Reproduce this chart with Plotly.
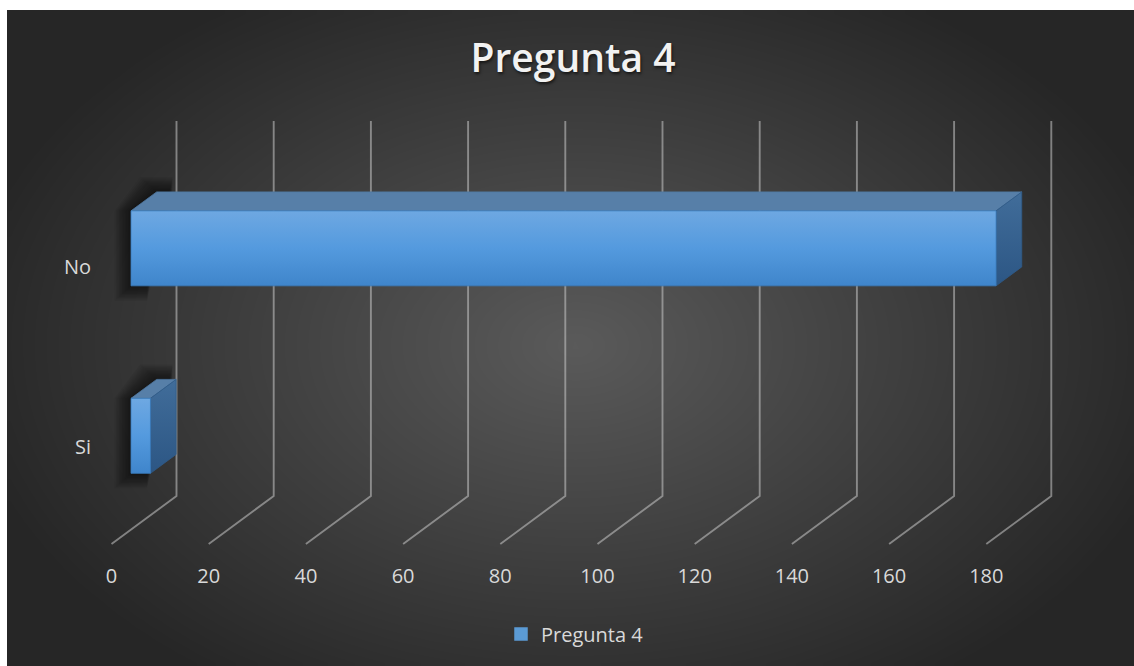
import numpy as np
import plotly.graph_objects as go

# ---------------- data ----------------
categories = ["Si", "No"]
values = [4, 178]
tick_values = [0, 20, 40, 60, 80, 100, 120, 140, 160, 180]
tick_labels = [str(v) for v in tick_values]
series_name = "Pregunta 4"
title_text = "Pregunta 4"

# ---------------- geometry / style ----------------
W, H = 1134, 666
X0_PX, UNIT_PX = 111.5, 4.86          # pixel of value 0 on front floor, px per unit
FLOOR_PX, CAT_PX = 544.0, 187.5       # pixel of front floor, px per category slot
DEPTH_DX_PX, DEPTH_DY_PX = 65.0, 48.0  # 3-D depth offset (front -> back wall)
DX = DEPTH_DX_PX / UNIT_PX
DY = DEPTH_DY_PX / CAT_PX
PXX = 1.0 / UNIT_PX
PXY = 1.0 / CAT_PX
D_FRONT, D_BACK = 0.30, 0.695
HALF = 0.2
LABEL_SPREAD, LABEL_SHIFT = 0.96, 0.009

x_range = [-X0_PX / UNIT_PX, (W - X0_PX) / UNIT_PX]
y_range = [-0.5 - (H - FLOOR_PX) / CAT_PX, -0.5 + FLOOR_PX / CAT_PX]
n_cat = len(categories)
cat_pos = list(range(n_cat))

fig = go.Figure()

# ---------------- background radial gradient (pixel axes) ----------------
nx, ny = 160, 100
xe = np.linspace(7, W, nx + 1)
ye = np.linspace(10, H, ny + 1)
xc = (xe[:-1] + xe[1:]) / 2
yc = (ye[:-1] + ye[1:]) / 2
XX, YY = np.meshgrid(xc, yc)
r = np.sqrt(((XX - 575) / 650) ** 2 + ((YY - 345) / 430) ** 2)
zbg = 90 - 52 * np.clip(r / 0.95, 0, 1)
fig.add_trace(go.Heatmap(
    x=xe, y=ye, z=zbg, zmin=38, zmax=90, zsmooth="best",
    colorscale=[[0, "rgb(38,38,38)"], [1, "rgb(90,90,90)"]],
    showscale=False, hoverinfo="skip", xaxis="x", yaxis="y"))

# ---------------- gridlines (back wall + floor diagonals) ----------------
gx, gy = [], []
for v in tick_values:
    gx += [v, v + DX, v + DX, None]
    gy += [-0.5, -0.5 + DY, -0.5 + n_cat + DY, None]
fig.add_trace(go.Scatter(
    x=gx, y=gy, mode="lines", line=dict(color="rgba(200,200,200,0.55)", width=1.9),
    hoverinfo="skip", showlegend=False, xaxis="x2", yaxis="y2"))

# ---------------- bars ----------------
for c, val in zip(cat_pos, values):
    x0f, x1f = DX * D_FRONT, val + DX * D_FRONT
    x0b, x1b = DX * D_BACK, val + DX * D_BACK
    y0f, y1f = c - HALF + DY * D_FRONT, c + HALF + DY * D_FRONT
    y0b, y1b = c - HALF + DY * D_BACK, c + HALF + DY * D_BACK

    # soft shadow on the left
    for k in range(1, 12):
        g = k * 1.5
        sx = [x0f - g * PXX, x0f - g * PXX, x0b - g * PXX, x0b + 16 * PXX,
              x0f + 16 * PXX, x0f - g * PXX]
        sy = [y0f - g * 0.9 * PXY, y1f, y1b + g * 0.9 * PXY, y1b + g * 0.9 * PXY,
              y0f - g * 0.9 * PXY, y0f - g * 0.9 * PXY]
        fig.add_trace(go.Scatter(
            x=sx, y=sy, mode="lines", fill="toself", line=dict(width=0),
            fillcolor="rgba(0,0,0,0.06)", hoverinfo="skip", showlegend=False,
            xaxis="x2", yaxis="y2"))

    # top face
    fig.add_trace(go.Scatter(
        x=[x0f, x1f, x1b, x0b, x0f], y=[y1f, y1f, y1b, y1b, y1f],
        mode="lines", fill="toself", fillcolor="#577fa8",
        line=dict(color="#4f78a2", width=0.8), hoverinfo="skip",
        showlegend=False, xaxis="x2", yaxis="y2"))
    # side face
    fig.add_trace(go.Scatter(
        x=[x1f, x1f, x1b, x1b, x1f], y=[y0f, y1f, y1b, y0b, y0f],
        mode="lines", fill="toself",
        fillgradient=dict(type="vertical",
                          colorscale=[[0, "#2c5684"], [1, "#416d9a"]]),
        line=dict(color="#2f5b89", width=0.8), hoverinfo="skip",
        showlegend=False, xaxis="x2", yaxis="y2"))
    # front face
    fig.add_trace(go.Scatter(
        x=[x0f, x1f, x1f, x0f, x0f], y=[y0f, y0f, y1f, y1f, y0f],
        mode="lines", fill="toself",
        fillgradient=dict(type="vertical",
                          colorscale=[[0, "#3f85cb"], [0.5, "#549ade"], [1, "#6ea8e2"]]),
        line=dict(color="#3a7bbd", width=0.8), name=series_name,
        hovertemplate=f"{categories[c]}: {val}<extra></extra>",
        showlegend=False, xaxis="x2", yaxis="y2"))

# legend entry
fig.add_trace(go.Bar(
    x=[None], y=[None], name=series_name, orientation="h",
    marker=dict(color="#5b9bd5", line=dict(color="#5b9bd5", width=1.5)),
    showlegend=True, xaxis="x2", yaxis="y2"))

# ---------------- axis labels (as text) ----------------
fig.add_trace(go.Scatter(
    x=tick_values, y=[-0.5 - 34 * PXY] * len(tick_values), mode="text",
    text=tick_labels, textposition="middle center",
    textfont=dict(family="Open Sans", size=20, color="#d9d9d9"),
    hoverinfo="skip", showlegend=False, xaxis="x2", yaxis="y2"))
fig.add_trace(go.Scatter(
    x=[-(X0_PX - 91) * PXX] * n_cat,
    y=[c * LABEL_SPREAD + LABEL_SHIFT for c in cat_pos], mode="text",
    text=categories, textposition="middle left",
    textfont=dict(family="Open Sans", size=20, color="#d9d9d9"),
    hoverinfo="skip", showlegend=False, xaxis="x2", yaxis="y2"))

fig.update_layout(
    width=W, height=H,
    margin=dict(l=0, r=0, t=0, b=0),
    paper_bgcolor="white", plot_bgcolor="rgba(0,0,0,0)",
    xaxis=dict(range=[0, W], visible=False, domain=[0, 1], fixedrange=True),
    yaxis=dict(range=[H, 0], visible=False, domain=[0, 1], fixedrange=True),
    xaxis2=dict(range=x_range, visible=False, overlaying="x", anchor="y2"),
    yaxis2=dict(range=y_range, visible=False, overlaying="y", anchor="x2"),
    title=dict(text=title_text, x=573 / W, xanchor="center",
               y=1 - 58 / H, yanchor="middle",
               font=dict(family="Open Sans", size=39, weight=600, color="#f2f2f2",
                         shadow="1px 2px 3px rgba(0,0,0,0.6)")),
    showlegend=True,
    legend=dict(x=575 / W, xanchor="center", y=1 - 634 / H, yanchor="middle",
                orientation="h", bgcolor="rgba(0,0,0,0)",
                font=dict(family="Open Sans", size=20, color="#d9d9d9")),
)

fig.write_html("out.html")
